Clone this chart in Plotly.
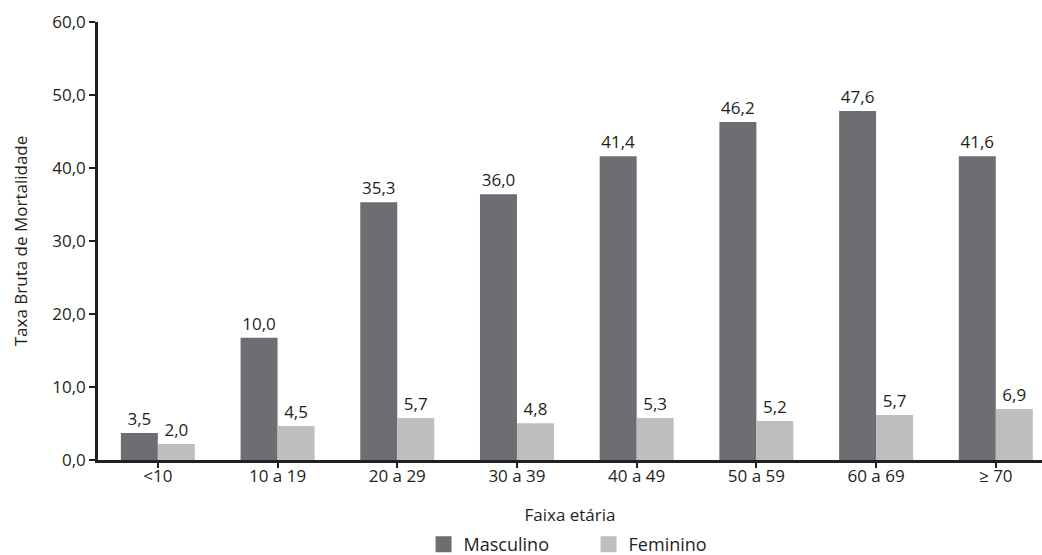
import plotly.graph_objects as go

categorias = ["<10", "10 a 19", "20 a 29", "30 a 39", "40 a 49", "50 a 59", "60 a 69", "≥ 70"]
masculino = [3.7, 16.75, 35.3, 36.4, 41.6, 46.3, 47.8, 41.6]
feminino = [2.2, 4.65, 5.75, 5.05, 5.75, 5.35, 6.15, 7.0]
rotulos_masculino = ["3,5", "10,0", "35,3", "36,0", "41,4", "46,2", "47,6", "41,6"]
rotulos_feminino = ["2,0", "4,5", "5,7", "4,8", "5,3", "5,2", "5,7", "6,9"]
y_ticks = [0, 10, 20, 30, 40, 50, 60]

COR_M = "#6d6e71"
COR_F = "#bcbec0"
TXT = "#231f20"
FONT = "Open Sans"

fig = go.Figure()
fig.add_trace(go.Bar(
    x=categorias, y=masculino, name="Masculino", marker=dict(color=COR_M, line=dict(width=0)),
    text=rotulos_masculino, textposition="outside", cliponaxis=False,
    textfont=dict(family=FONT, size=17, color=TXT), constraintext="none", showlegend=False,
))
fig.add_trace(go.Bar(
    x=categorias, y=feminino, name="Feminino", marker=dict(color=COR_F, line=dict(width=0)),
    text=rotulos_feminino, textposition="outside", cliponaxis=False,
    textfont=dict(family=FONT, size=17, color=TXT), constraintext="none", showlegend=False,
))
# legend-only entries with larger square swatches
fig.add_trace(go.Scatter(x=[None], y=[None], mode="markers", name="Masculino",
                         marker=dict(symbol="square", size=19, color=COR_M)))
fig.add_trace(go.Scatter(x=[None], y=[None], mode="markers", name="Feminino",
                         marker=dict(symbol="square", size=19, color=COR_F)))

fig.update_layout(
    width=1042, height=563,
    margin=dict(l=98, r=0, t=22, b=103),
    paper_bgcolor="white", plot_bgcolor="white",
    barmode="group", bargap=0.382, bargroupgap=0,
    separators=",.",
    font=dict(family=FONT, size=17, color=TXT),
    showlegend=True,
    legend=dict(orientation="h", x=0.4065, xanchor="left", xref="container",
                y=0.0, yanchor="bottom", yref="container",
                font=dict(family=FONT, size=18, color=TXT), itemsizing="trace",
                traceorder="normal", entrywidth=120, entrywidthmode="pixels",
                bgcolor="rgba(0,0,0,0)"),
    xaxis=dict(
        type="category", range=[-0.5, 7.386], automargin=False,
        showline=True, linecolor=TXT, linewidth=2.5,
        ticks="outside", ticklen=5, tickwidth=2, tickcolor=TXT,
        ticklabelstandoff=-6,
        showgrid=False, zeroline=False,
        tickfont=dict(family=FONT, size=17, color=TXT),
        title=dict(text="Faixa etária", font=dict(family=FONT, size=17, color=TXT), standoff=23),
    ),
    yaxis=dict(
        range=[0, 60], tickvals=y_ticks, tickformat=".1f", automargin=False,
        showline=True, linecolor=TXT, linewidth=2.5,
        ticks="outside", ticklen=6, tickwidth=2, tickcolor=TXT,
        showgrid=False, zeroline=False,
        tickfont=dict(family=FONT, size=17, color=TXT),
        title=dict(text="Taxa Bruta de Mortalidade", font=dict(family=FONT, size=17, color=TXT), standoff=21),
    ),
)

fig.write_html("out.html", config={"displayModeBar": False},
               post_script="document.body.style.margin='0';document.body.style.overflow='hidden';")
